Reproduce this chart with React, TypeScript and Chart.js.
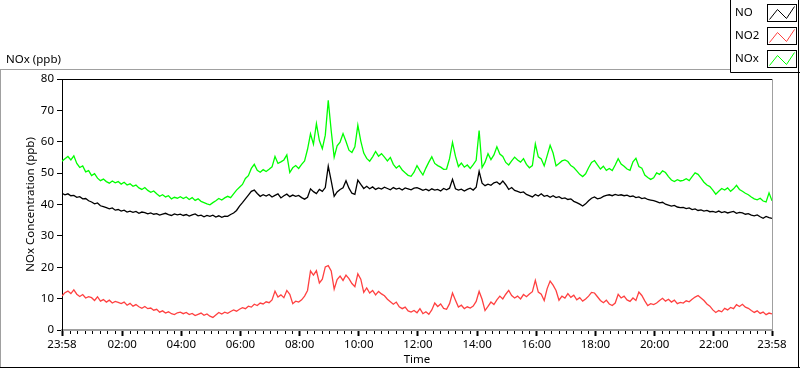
import React, { useEffect, useRef } from 'react';
import { Chart, registerables } from 'chart.js';

Chart.register(...registerables);

// Minutes elapsed since 23:58 for each sample (one sample every 6 minutes)
const STEP_MIN = 6;

const X_TICK_MINUTES = [0, 122, 242, 362, 482, 602, 722, 842, 962, 1082, 1202, 1322, 1440];
const X_TICK_LABELS = ['23:58', '02:00', '04:00', '06:00', '08:00', '10:00', '12:00', '14:00', '16:00', '18:00', '20:00', '22:00', '23:58'];
const Y_MIN = 0;
const Y_MAX = 80;
const Y_STEP = 10;

const SERIES_NAMES = ['NO', 'NO2', 'NOx'];
const SERIES_COLORS = ['#000000', '#ff4040', '#00ff00'];

const NO = [
  43.6, 43.1, 43.4, 42.8, 42.9, 42.3, 42.5, 41.8, 41.9, 41.2,
  40.8, 40.2, 40.5, 39.6, 39.3, 39.0, 38.6, 38.9, 38.2, 38.4,
  37.9, 38.2, 37.6, 37.9, 37.5, 37.8, 37.2, 37.6, 37.4, 37.0,
  37.3, 36.9, 37.1, 36.6, 36.9, 37.2, 36.8, 36.5, 37.0, 36.7,
  36.9, 36.5, 36.8, 36.3, 36.7, 37.0, 36.4, 36.6, 36.1, 36.5,
  36.2, 36.6, 36.0, 36.4, 35.9, 36.3, 36.2, 36.8, 37.3, 38.1,
  39.5, 40.6, 41.8, 43.0, 44.2, 44.6, 43.5, 42.6, 43.1, 42.7,
  43.2, 42.4, 42.9, 43.4, 42.1, 42.8, 43.3, 42.5, 43.0, 42.6,
  42.9, 42.2, 41.7, 42.3, 45.0, 44.1, 43.5, 44.8, 44.2, 45.4,
  52.2, 47.5, 42.6, 44.0, 44.8, 45.3, 47.6, 45.2, 43.6, 43.2,
  47.8, 46.4, 45.1, 45.8, 45.0, 45.6, 44.8, 45.3, 44.9, 45.5,
  45.1, 44.7, 45.4, 44.9, 45.2, 44.6, 45.3, 45.0, 44.7, 45.2,
  45.4, 45.0, 44.5, 44.9, 44.4, 45.0, 44.6, 44.8, 44.3, 45.1,
  44.7, 45.2, 48.0, 45.0, 44.6, 44.9, 44.3, 44.8, 45.2, 44.6,
  45.5, 50.6, 46.8, 46.0, 46.5, 46.1, 46.9, 47.2, 46.4, 47.5,
  46.3, 44.8, 45.4, 44.5, 44.2, 43.8, 44.0, 43.2, 42.8, 42.4,
  43.2, 42.7, 43.4, 42.6, 42.9, 42.3, 42.8, 42.2, 42.5, 41.9,
  42.1, 41.6, 41.8, 41.0, 40.6, 40.1, 39.5, 40.2, 41.2, 42.0,
  42.4, 41.8, 42.0, 42.6, 42.9, 43.1, 42.8, 43.2, 42.9, 43.1,
  42.8, 43.0, 42.5, 42.7, 42.2, 42.4, 41.9, 42.1, 41.6, 41.4,
  41.2, 40.9, 40.5, 40.7, 40.1, 39.8, 39.5, 39.7, 39.2, 39.0,
  39.1, 38.7, 38.9, 38.4, 38.6, 38.1, 38.3, 37.9, 38.1, 37.7,
  37.8, 37.5, 37.9, 37.4, 37.7, 37.3, 37.6, 37.8, 37.2, 37.5,
  37.3, 36.9, 37.1, 36.6, 36.4, 36.7, 36.1, 35.6, 36.2, 35.8, 35.6,
];

const NO2 = [
  10.8, 11.9, 12.4, 11.6, 12.8, 11.4, 10.7, 11.3, 10.2, 10.6,
  10.3, 9.4, 10.6, 9.2, 9.7, 8.9, 9.5, 8.6, 9.1, 8.8,
  8.4, 8.9, 7.9, 8.5, 7.6, 8.1, 7.4, 6.9, 7.5, 6.8,
  7.0, 6.3, 6.6, 5.7, 6.1, 5.4, 5.8, 5.2, 4.9, 5.5,
  5.7, 5.2, 5.6, 4.9, 5.3, 4.6, 5.0, 5.4, 4.7, 5.1,
  4.4, 4.0, 4.8, 5.6, 5.1, 5.7, 5.3, 5.9, 6.4, 6.0,
  6.6, 7.1, 6.8, 7.6, 7.3, 8.2, 7.8, 8.6, 8.3, 9.0,
  8.7, 9.6, 12.4, 10.5, 11.2, 10.3, 12.6, 11.4, 8.4, 9.2,
  8.9, 9.6, 10.8, 12.6, 18.8, 17.5, 18.9, 15.0, 16.2, 20.1,
  20.5, 18.8, 13.0, 16.1, 17.2, 15.8, 17.5, 16.4, 14.8, 13.8,
  17.9, 16.2, 12.0, 13.4, 11.8, 12.6, 11.2, 12.3, 11.5, 10.9,
  9.8, 9.0, 8.2, 8.9, 7.4, 6.8, 7.3, 6.1, 5.7, 6.2,
  5.5, 6.8, 5.2, 5.8, 5.0, 6.4, 8.6, 7.5, 8.3, 6.9,
  6.6, 8.4, 11.8, 9.5, 7.3, 7.9, 6.8, 7.4, 7.0, 7.6,
  9.1, 12.3, 9.8, 6.2, 7.5, 8.9, 8.1, 9.6, 10.8, 9.9,
  11.4, 12.6, 11.0, 10.2, 10.8, 9.9, 11.3, 10.6, 11.5, 12.2,
  15.8, 12.1, 11.4, 9.4, 13.2, 15.6, 14.3, 12.6, 9.5, 10.8,
  10.2, 11.6, 10.4, 11.1, 9.6, 10.3, 9.2, 9.9, 10.8, 12.0,
  11.8, 10.6, 9.4, 8.7, 9.5, 8.3, 7.8, 8.6, 11.4, 10.2,
  10.8, 9.6, 9.1, 10.2, 9.4, 12.1, 11.0, 9.3, 7.8, 8.4,
  8.1, 8.6, 9.4, 10.1, 9.2, 9.8, 8.9, 9.5, 8.4, 8.8,
  8.6, 9.3, 9.0, 9.8, 10.5, 11.0, 10.2, 9.4, 8.3, 7.6,
  6.4, 5.6, 6.2, 5.8, 6.9, 6.4, 7.2, 6.8, 8.1, 7.5,
  8.2, 7.3, 6.9, 6.2, 5.6, 6.1, 5.3, 5.7, 4.9, 5.4, 5.1,
];

const NOX = [
  53.8, 54.6, 55.3, 54.2, 55.5, 53.1, 51.8, 52.3, 50.4, 50.8,
  49.2, 49.8, 48.4, 47.6, 48.1, 47.3, 46.8, 47.5, 46.9, 47.3,
  46.5, 47.1, 46.2, 46.6, 45.8, 46.2, 45.3, 44.8, 45.4, 44.5,
  43.9, 44.3, 43.4, 42.6, 43.1, 42.4, 42.8, 41.8, 42.3, 42.0,
  42.5, 41.9, 42.4, 41.6, 42.2, 41.3, 41.8, 41.0, 40.6, 40.2,
  39.9, 40.6, 41.2, 41.9, 41.4, 42.1, 42.6, 42.2, 43.4, 44.6,
  45.5, 46.4, 48.3, 49.2, 51.5, 52.8, 50.9, 50.3, 51.1, 50.5,
  51.2, 52.0, 55.3, 53.1, 53.6, 54.2, 55.8, 50.2, 51.7, 52.4,
  51.5, 52.8, 53.9, 57.6, 62.5, 59.2, 65.8, 60.4, 57.8, 62.1,
  73.2, 63.5, 55.1, 58.7, 59.9, 62.6, 60.1, 57.3, 56.6, 58.4,
  65.3, 60.2, 56.4, 54.7, 53.8, 55.2, 56.9, 55.4, 56.2, 55.1,
  53.9, 55.0, 52.8, 51.6, 52.4, 51.0, 50.1, 49.3, 49.0, 50.3,
  52.4, 50.8, 49.4, 51.6, 53.5, 55.2, 53.1, 52.4, 51.9, 51.2,
  51.3, 54.6, 59.8, 55.4, 52.1, 53.2, 51.9, 52.6, 51.5, 52.7,
  54.1, 63.6, 51.8, 53.5, 56.2, 54.3, 55.8, 58.4, 56.1, 55.3,
  53.4, 52.6, 53.9, 55.1, 54.2, 53.5, 54.6, 52.8, 51.7, 52.4,
  59.3, 55.2, 54.5, 52.3, 55.6, 58.9, 56.4, 52.3, 53.1, 53.9,
  54.2, 53.7, 52.4, 51.8, 50.7, 49.6, 48.9, 49.8, 51.7, 53.4,
  54.0, 52.6, 51.3, 52.2, 50.9, 51.5, 50.8, 52.6, 54.6, 52.9,
  52.2, 51.3, 50.9, 53.6, 54.7, 52.1, 51.6, 49.4, 48.6, 48.0,
  48.5, 50.1, 49.6, 50.7, 50.2, 48.9, 47.8, 47.3, 47.9, 47.5,
  47.7, 48.2, 47.6, 48.9, 50.1, 49.6, 48.4, 47.1, 46.2, 45.7,
  44.6, 43.3, 44.2, 45.1, 44.6, 45.3, 44.2, 45.0, 46.1, 44.8,
  44.2, 43.6, 43.1, 42.4, 41.8, 41.5, 42.0, 41.1, 40.8, 43.7, 41.2,
];

const SERIES = [NO, NO2, NOX];
const FONT = "'Noto Sans', sans-serif";
const FONT_SIZE = 11.5;

const framePlugin = {
  id: 'labviewFrame',
  beforeDraw(chart: any) {
    const ctx = chart.ctx;
    ctx.save();
    ctx.fillStyle = '#ffffff';
    ctx.fillRect(0, 0, chart.width, chart.height);
    ctx.restore();
  },
  afterDraw(chart: any) {
    const ctx = chart.ctx;
    const { left, right, top, bottom } = chart.chartArea;
    const xs = chart.scales.x;
    ctx.save();

    // outer frame
    ctx.lineWidth = 1;
    ctx.strokeStyle = '#a0a0a0';
    ctx.beginPath();
    ctx.moveTo(0, 69.5); ctx.lineTo(730, 69.5);
    ctx.moveTo(0.5, 69); ctx.lineTo(0.5, 368);
    ctx.stroke();
    ctx.strokeStyle = '#000000';
    ctx.beginPath();
    ctx.moveTo(0, 367.5); ctx.lineTo(800, 367.5);
    ctx.moveTo(798.5, 0); ctx.lineTo(798.5, 368);
    ctx.stroke();

    // plot frame: top dark, right light
    ctx.strokeStyle = '#000000';
    ctx.beginPath();
    ctx.moveTo(left, top + 0.5); ctx.lineTo(right, top + 0.5);
    ctx.stroke();
    ctx.strokeStyle = '#a0a0a0';
    ctx.beginPath();
    ctx.moveTo(right + 0.5, top); ctx.lineTo(right + 0.5, bottom);
    ctx.stroke();

    // minor ticks on the time axis
    ctx.strokeStyle = '#000000';
    ctx.beginPath();
    for (let i = 0; i < X_TICK_MINUTES.length - 1; i++) {
      const a = X_TICK_MINUTES[i];
      const b = X_TICK_MINUTES[i + 1];
      for (let k = 1; k < 8; k++) {
        const px = Math.round(xs.getPixelForValue(a + ((b - a) * k) / 8)) + 0.5;
        ctx.moveTo(px, bottom + 1);
        ctx.lineTo(px, bottom + 4);
      }
    }
    ctx.stroke();

    // graph title
    ctx.fillStyle = '#000000';
    ctx.font = `${FONT_SIZE}px ${FONT}`;
    ctx.textBaseline = 'middle';
    ctx.textAlign = 'left';
    ctx.fillText('NOx (ppb)', 6, 60);

    // legend box
    ctx.strokeStyle = '#000000';
    ctx.beginPath();
    ctx.moveTo(730.5, 0); ctx.lineTo(730.5, 72.5); ctx.lineTo(800, 72.5);
    ctx.stroke();
    const boxTops = [4, 27, 50];
    for (let s = 0; s < SERIES_NAMES.length; s++) {
      const bt = boxTops[s];
      ctx.fillStyle = '#000000';
      ctx.fillText(SERIES_NAMES[s], 735, bt + 9);
      const bx = 767.5;
      const by = bt + 0.5;
      const bw = 29;
      const bh = 17;
      ctx.fillStyle = '#ffffff';
      ctx.fillRect(bx, by, bw, bh);
      ctx.strokeStyle = '#000000';
      ctx.strokeRect(bx, by, bw, bh);
      ctx.strokeStyle = SERIES_COLORS[s];
      ctx.beginPath();
      ctx.moveTo(bx + 2, by + bh - 2);
      ctx.lineTo(bx + 10, by + 5);
      ctx.lineTo(bx + 19, by + bh - 3);
      ctx.lineTo(bx + 27, by + 2);
      ctx.stroke();
    }
    ctx.restore();
  },
};

export default function App() {
  const canvasRef = useRef<HTMLCanvasElement | null>(null);

  useEffect(() => {
    document.body.style.margin = '0';
    const canvas = canvasRef.current;
    if (!canvas) return;
    const datasets = SERIES.map((values, s) => ({
      label: SERIES_NAMES[s],
      data: values.map((v, i) => ({ x: i * STEP_MIN, y: v })),
      borderColor: SERIES_COLORS[s],
      backgroundColor: SERIES_COLORS[s],
      borderWidth: 1.3,
      pointRadius: 0,
      tension: 0,
    }));
    const chart = new Chart(canvas, {
      type: 'line',
      data: { datasets: datasets as any },
      plugins: [framePlugin],
      options: {
        animation: false,
        responsive: false,
        devicePixelRatio: 1,
        layout: { padding: { top: 79, right: 28, left: 0, bottom: 0 } },
        plugins: {
          legend: { display: false },
          tooltip: { enabled: false },
        },
        scales: {
          x: {
            type: 'linear',
            min: X_TICK_MINUTES[0],
            max: X_TICK_MINUTES[X_TICK_MINUTES.length - 1],
            afterBuildTicks: (scale: any) => {
              scale.ticks = X_TICK_MINUTES.map((v) => ({ value: v }));
            },
            afterFit: (scale: any) => {
              scale.height = 39;
            },
            ticks: {
              autoSkip: false,
              maxRotation: 0,
              padding: 2,
              color: '#000000',
              font: { family: FONT, size: FONT_SIZE },
              callback: (_v: any, idx: number) => X_TICK_LABELS[idx],
            },
            grid: {
              display: true,
              drawOnChartArea: false,
              drawTicks: true,
              tickLength: 6,
              tickWidth: 2,
              tickColor: '#000000',
            },
            border: { display: true, color: '#a0a0a0', width: 2 },
            title: {
              display: true,
              text: 'Time',
              color: '#000000',
              font: { family: FONT, size: FONT_SIZE },
              padding: { top: 0, bottom: 2 },
            },
          },
          y: {
            type: 'linear',
            min: Y_MIN,
            max: Y_MAX,
            afterFit: (scale: any) => {
              scale.width = 62;
            },
            ticks: {
              stepSize: Y_STEP,
              padding: 3,
              color: '#000000',
              font: { family: FONT, size: FONT_SIZE },
            },
            grid: {
              display: true,
              drawOnChartArea: false,
              drawTicks: true,
              tickLength: 5,
              tickColor: '#000000',
            },
            border: { display: true, color: '#000000', width: 1 },
            title: {
              display: true,
              text: 'NOx Concentration (ppb)',
              color: '#000000',
              font: { family: FONT, size: FONT_SIZE },
              padding: { top: 24, bottom: 0 },
            },
          },
        },
      },
    });
    return () => chart.destroy();
  }, []);

  return (
    <div style={{ width: 800, height: 369 }}>
      <canvas ref={canvasRef} width={800} height={369} style={{ display: 'block', width: 800, height: 369 }} />
    </div>
  );
}
